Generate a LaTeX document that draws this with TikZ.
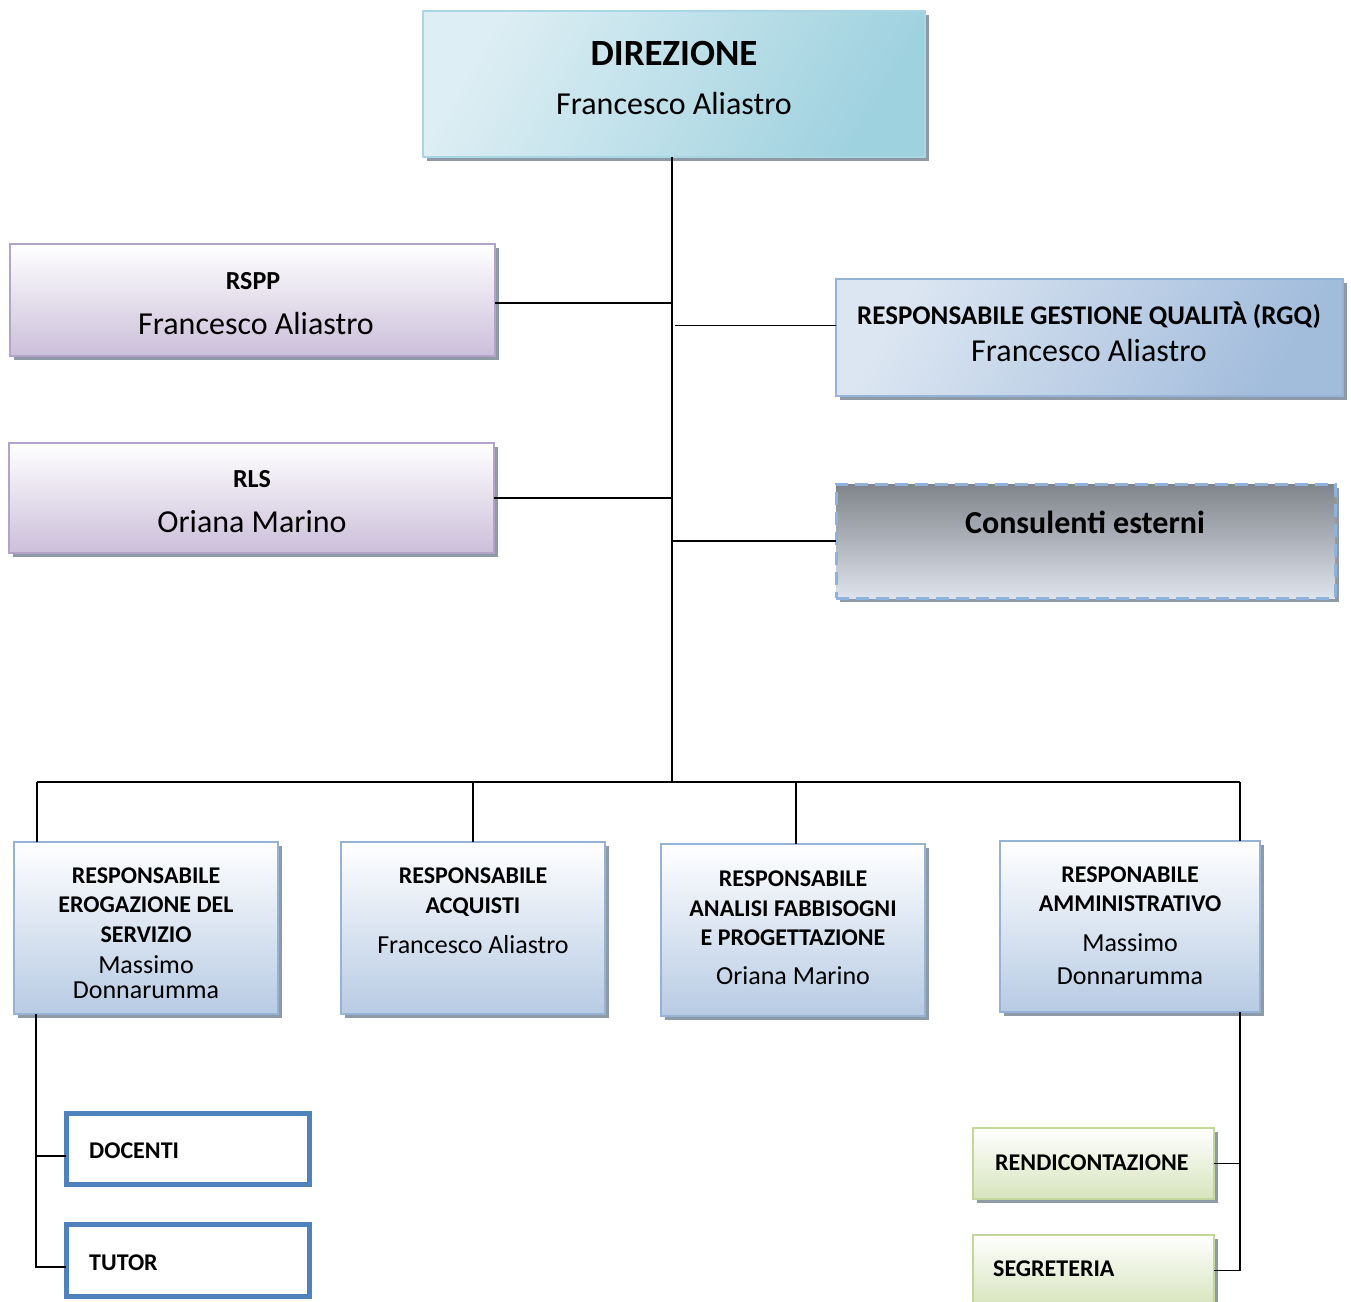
\documentclass[tikz,border=0pt]{standalone}
\usepackage{fontspec}
\setmainfont{Carlito}
\usetikzlibrary{shadows,calc}
\definecolor{dirL}{HTML}{DDEEF4}
\definecolor{dirD}{HTML}{9FD2DF}
\definecolor{dirB}{HTML}{A8D6E2}
\definecolor{lavB}{HTML}{B4A3C8}
\definecolor{lavD}{HTML}{CBBFDA}
\definecolor{bluL}{HTML}{DCE6F2}
\definecolor{bluD}{HTML}{A2BCDC}
\definecolor{bluB}{HTML}{95B3D7}
\definecolor{botD}{HTML}{B7CBE4}
\definecolor{gryD}{HTML}{80848B}
\definecolor{gryL}{HTML}{DDE3EC}
\definecolor{dashB}{HTML}{8FB2DC}
\definecolor{strongB}{HTML}{4F81BD}
\definecolor{grnD}{HTML}{D7E4BD}
\definecolor{grnB}{HTML}{C3D69B}
\definecolor{shd}{HTML}{8E9AA6}
\begin{document}
\begin{tikzpicture}[x=1pt,y=-1pt,
  box/.style={rectangle, inner sep=0pt, outer sep=0pt, line width=2pt,
    drop shadow={shadow xshift=4pt, shadow yshift=-4pt, fill=shd, opacity=1}},
  dirbox/.style={box, draw=dirB, left color=dirL, right color=dirD, shading angle=60},
  lavbox/.style={box, draw=lavB, top color=white, bottom color=lavD},
  rgqbox/.style={box, draw=bluB, left color=bluL, right color=bluD, shading angle=60},
  consbox/.style={box, draw=dashB, line width=3pt, dash pattern=on 13pt off 7pt, top color=gryD, bottom color=gryL},
  botbox/.style={box, draw=bluB, top color=white, bottom color=botD},
  subbox/.style={rectangle, inner sep=0pt, outer sep=0pt, draw=strongB, line width=5pt, fill=white},
  grnbox/.style={box, draw=grnB, line width=2.5pt, top color=white, bottom color=grnD},
  lbl/.style={anchor=base, inner sep=0pt},
  tbig/.style={lbl, font=\fontsize{37}{40}\selectfont\bfseries},
  tmid/.style={lbl, font=\fontsize{26}{30}\selectfont\bfseries},
  tsm/.style={lbl, font=\fontsize{24}{28}\selectfont\bfseries},
  nbig/.style={lbl, font=\fontsize{32}{36}\selectfont},
  nsm/.style={lbl, font=\fontsize{26}{30}\selectfont},
  conn/.style={draw=black, line width=1.5pt}
]
\useasboundingbox (0,0) rectangle (1351,1301);
\begin{scope}
\clip (0,0) rectangle (1351,1301);
% boxes
\node[dirbox, minimum width=502pt, minimum height=146pt] (dir) at (674,84) {};
\node[lavbox, minimum width=485pt, minimum height=112pt] (rspp) at (252.5,300) {};
\node[lavbox, minimum width=485pt, minimum height=110pt] (rls) at (251.5,498) {};
\node[rgqbox, minimum width=507pt, minimum height=117pt] (rgq) at (1089.5,337.5) {};
\node[consbox, minimum width=499pt, minimum height=114pt] (cons) at (1085.5,541) {};
\node[botbox, minimum width=264pt, minimum height=172pt] (ero) at (146,928) {};
\node[botbox, minimum width=264pt, minimum height=172pt] (acq) at (473,928) {};
\node[botbox, minimum width=264pt, minimum height=172pt] (ana) at (793,930) {};
\node[botbox, minimum width=260pt, minimum height=171pt] (amm) at (1130,926.5) {};
\node[subbox, minimum width=243pt, minimum height=71pt] (doc) at (187.5,1148.5) {};
\node[subbox, minimum width=243pt, minimum height=72pt] (tut) at (187.5,1260) {};
\node[grnbox, minimum width=241pt, minimum height=71pt] (ren) at (1093.5,1163.5) {};
\node[grnbox, minimum width=241pt, minimum height=71pt] (seg) at (1093.5,1270.5) {};
\end{scope}
% texts
\node[tbig] (t1) at (674,65) {DIREZIONE};
\node[nbig] (t2) at (674,114) {Francesco Aliastro};
\node[tmid] (t3) at (253,289) {RSPP};
\node[nbig] (t4) at (256,334) {Francesco Aliastro};
\node[tmid] (t5) at (252,487) {RLS};
\node[nbig] (t6) at (252,532) {Oriana Marino};
\node[lbl, font=\fontsize{27}{30}\selectfont\bfseries] (t7) at (1089,324) {RESPONSABILE GESTIONE QUALITÀ (RGQ)};
\node[nbig] (t8) at (1089,361) {Francesco Aliastro};
\node[lbl, font=\fontsize{32}{36}\selectfont\bfseries] (t9) at (1085,533) {Consulenti esterni};
\node[tsm] (e1) at (146,883) {RESPONSABILE};
\node[tsm] (e2) at (146,912) {EROGAZIONE DEL};
\node[tsm] (e3) at (146,942) {SERVIZIO};
\node[nsm] (e4) at (146,973) {Massimo};
\node[nsm] (e5) at (146,998) {Donnarumma};
\node[tsm] (a1) at (473,883) {RESPONSABILE};
\node[tsm] (a2) at (473,913) {ACQUISTI};
\node[nsm] (a3) at (473,953) {Francesco Aliastro};
\node[tsm] (p1) at (793,886) {RESPONSABILE};
\node[tsm] (p2) at (793,916) {ANALISI FABBISOGNI};
\node[tsm] (p3) at (793,945) {E PROGETTAZIONE};
\node[nsm] (p4) at (793,984) {Oriana Marino};
\node[tsm] (m1) at (1130,882) {RESPONABILE};
\node[tsm] (m2) at (1130,911) {AMMINISTRATIVO};
\node[nsm] (m3) at (1130,951) {Massimo};
\node[nsm] (m4) at (1130,984) {Donnarumma};
\node[tsm, anchor=base west] (d1) at (89,1158) {DOCENTI};
\node[tsm, anchor=base west] (d2) at (89,1270) {TUTOR};
\node[tsm, anchor=base west] (r1) at (995,1170) {RENDICONTAZIONE};
\node[tsm, anchor=base west] (r2) at (993,1276) {SEGRETERIA};
% connectors
\coordinate (trunk) at (672,782);
\coordinate (bL) at (37,782);
\coordinate (bR) at (1240,782);
\coordinate (lb) at (36,0);
\draw[conn] (dir.south -| trunk) -- (trunk);
\draw[conn] ($(rspp.east)+(0,3)$) -- ($(rspp.east -| trunk)+(0,3)$);
\draw[conn] (rls.east) -- (rls.east -| trunk);
\draw[conn] ($(rgq.west)+(0,-12)$) -- ($(rgq.west -| trunk)+(3,-12)$);
\draw[conn] (cons.west) -- (cons.west -| trunk);
\draw[conn] (bL) -- (bR);
\draw[conn] (bL) -- (bL |- ero.north);
\draw[conn] (acq.north) -- (acq.north |- trunk);
\draw[conn] ($(ana.north)+(3,0)$) -- ($(ana.north |- trunk)+(3,0)$);
\draw[conn] (bR) -- (bR |- amm.north);
\draw[conn] (ero.south -| lb) |- ($(tut.west)+(0,7)$);
\draw[conn] ($(doc.west)+(0,7.5)$) -- ($(doc.west -| lb)+(0,7.5)$);
\draw[conn] (amm.south -| bR) |- (seg.east);
\draw[conn] (ren.east) -- (ren.east -| bR);
\end{tikzpicture}
\end{document}
